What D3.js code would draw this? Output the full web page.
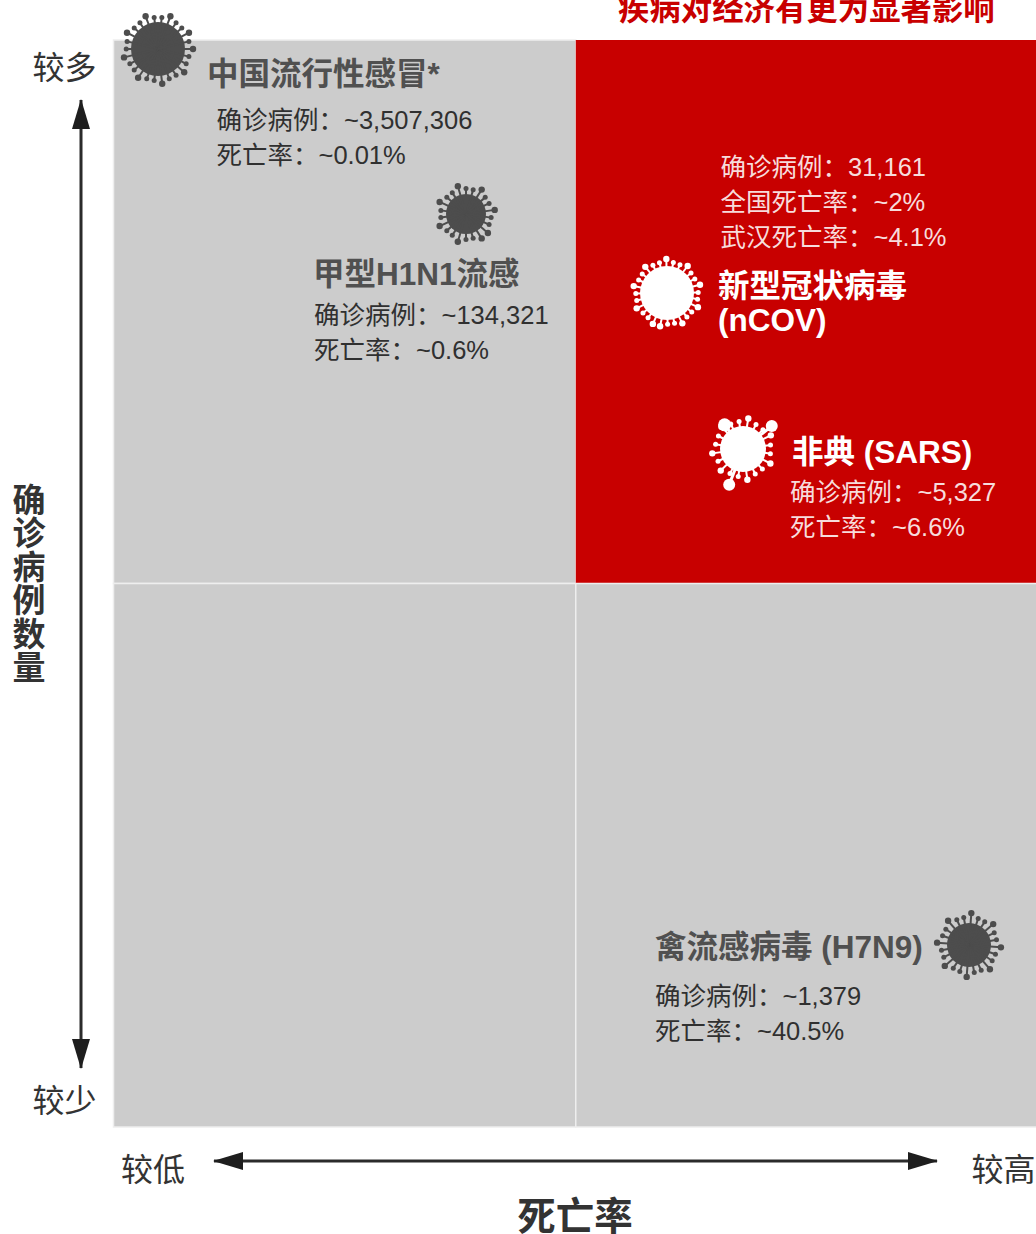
<!DOCTYPE html>
<html>
<head>
<meta charset="utf-8">
<script src="https://cdn.jsdelivr.net/npm/d3@7"></script>
<style>
  html, body { margin: 0; padding: 0; background: #fff; overflow: hidden; }
  text { font-family: "Liberation Sans", "Noto Sans CJK SC", sans-serif; }
</style>
</head>
<body>
<div id="chart"></div>
<script>
// chart content
const rateLevels = ["较低", "较高"];
const caseLevels = ["较多", "较少"];
const highlightCell = "较高|较多";

const diseases = ["中国流行性感冒*", "甲型H1N1流感", "新型冠状病毒", "非典 (SARS)", "禽流感病毒 (H7N9)"];
const caseCounts = ["~3,507,306", "~134,321", "31,161", "~5,327", "~1,379"];
const deathRates = ["~0.01%", "~0.6%", "~2%", "~6.6%", "~40.5%"];

const width = 1036, height = 1234;
const plot = { left: 113.5, right: 1038, top: 40, bottom: 1127 };

// where each block of text and each icon sits
const placement = [
    { x: 207, bodyX: 216.5, title: 85, lines: [129, 164], icon: [158, 49], r: 27, out: 35, spikes: 26, dark: true },
    { x: 313, bodyX: 314, title: 285, lines: [324, 359], icon: [466, 214], r: 20, out: 29, spikes: 22, dark: true },
    { x: 718, bodyX: 720.5, title: 297, lines: [176, 211, 246], icon: [667, 293], r: 27, out: 34, spikes: 28, dark: false },
    { x: 792, bodyX: 790, title: 463, lines: [501, 536], icon: [743, 449], r: 23, out: 31, spikes: 20, dark: false },
    { x: 655, bodyX: 655, title: 958, lines: [1004.5, 1040], icon: [969, 945], r: 22, out: 32, spikes: 24, dark: true }
];

const svg = d3.select("#chart").append("svg")
    .attr("width", width)
    .attr("height", height);

// quadrants
const xScale = d3.scaleBand().domain(rateLevels).range([plot.left, plot.right]).paddingInner(0);
const yScale = d3.scaleBand().domain(caseLevels).range([plot.top, plot.bottom]).paddingInner(0);

const cells = d3.cross(rateLevels, caseLevels);
svg.selectAll(".cell")
    .data(cells)
    .enter().append("rect")
    .attr("class", "cell")
    .attr("x", d => xScale(d[0]))
    .attr("y", d => yScale(d[1]))
    .attr("width", xScale.bandwidth())
    .attr("height", yScale.bandwidth())
    .attr("fill", d => d.join("|") === highlightCell ? "#c80000" : "#cccccc")
    .attr("stroke", "#eeeeee")
    .attr("stroke-width", 1.5);

// the highlight has no pale edge on top or right
svg.selectAll(".cell")
    .filter(d => d.join("|") === highlightCell)
    .attr("stroke", "none");

// axis end labels
const xEnds = d3.scalePoint().domain(rateLevels).range([152.5, 1003]);
const yEnds = d3.scalePoint().domain(caseLevels).range([67, 1100]);

const xAxis = svg.append("g")
    .attr("transform", "translate(0,1169)")
    .call(d3.axisBottom(xEnds).tickSize(0).tickPadding(0));
const yAxis = svg.append("g")
    .attr("transform", "translate(96.5,0)")
    .call(d3.axisLeft(yEnds).tickSize(0).tickPadding(0));
[xAxis, yAxis].forEach(a => {
    a.select(".domain").remove();
    a.selectAll("text")
        .attr("y", null)
        .attr("dy", "0.36em")
        .attr("fill", "#333")
        .style("font-size", "32px");
});

// arrows
const defs = svg.append("defs");
defs.append("marker")
    .attr("id", "head")
    .attr("viewBox", "0 0 30 18")
    .attr("refX", 29)
    .attr("refY", 9)
    .attr("markerUnits", "userSpaceOnUse")
    .attr("markerWidth", 32)
    .attr("markerHeight", 18)
    .attr("orient", "auto-start-reverse")
    .append("path")
    .attr("d", "M0,0 L30,9 L0,18 Z")
    .attr("fill", "#1e1e1e");

svg.append("line")
    .attr("x1", 81).attr("x2", 81)
    .attr("y1", 100).attr("y2", 1068)
    .attr("stroke", "#2b2b2b").attr("stroke-width", 3)
    .attr("marker-start", "url(#head)").attr("marker-end", "url(#head)");

svg.append("line")
    .attr("x1", 214).attr("x2", 937)
    .attr("y1", 1161).attr("y2", 1161)
    .attr("stroke", "#2b2b2b").attr("stroke-width", 3)
    .attr("marker-start", "url(#head)").attr("marker-end", "url(#head)");

// axis titles
svg.append("text")
    .attr("x", 575).attr("y", 1230)
    .attr("text-anchor", "middle")
    .attr("font-size", 38.5).attr("font-weight", 700)
    .attr("fill", "#333")
    .text("死亡率");

svg.selectAll(".ytitle")
    .data("确诊病例数量".split(""))
    .enter().append("text")
    .attr("class", "ytitle")
    .attr("x", 29)
    .attr("y", (d, i) => 512 + i * 33.4)
    .attr("text-anchor", "middle")
    .attr("font-size", 33).attr("font-weight", 700)
    .attr("fill", "#333")
    .text(d => d);

// red heading, cut off by the top of the picture
svg.append("text")
    .attr("x", 618).attr("y", 20)
    .attr("font-size", 31.4).attr("font-weight", 700)
    .attr("fill", "#c80000")
    .text("疾病对经济有更为显著影响");

// virus icon
function drawVirus(p, i) {
    const color = p.dark ? "#4d4d4d" : "#ffffff";
    const g = svg.append("g").attr("transform", `translate(${p.icon[0]},${p.icon[1]})`);
    g.append("circle").attr("r", p.r).attr("fill", color);
    d3.range(p.spikes).forEach(k => {
        const a = (k / p.spikes) * 2 * Math.PI + i;
        // every third spike is a long one
        const len = k % 3 === 0 ? p.out : p.r + (p.out - p.r) * 0.6;
        const tip = k % 3 === 0 ? 3.2 : 2.5;
        g.append("line")
            .attr("x2", Math.cos(a) * len).attr("y2", Math.sin(a) * len)
            .attr("stroke", color).attr("stroke-width", 2);
        g.append("circle")
            .attr("cx", Math.cos(a) * len).attr("cy", Math.sin(a) * len)
            .attr("r", tip).attr("fill", color);
    });
    return g;
}

const icons = placement.map(drawVirus);

// the SARS icon has three large club-shaped spikes
[[-0.8, -1.05, 6.5], [1.25, -1, 6], [-0.6, 1.55, 6]].forEach(s => {
    const len = 23;
    icons[3].append("line")
        .attr("x2", s[0] * len).attr("y2", s[1] * len)
        .attr("stroke", "#fff").attr("stroke-width", 3);
    icons[3].append("circle")
        .attr("cx", s[0] * len).attr("cy", s[1] * len)
        .attr("r", s[2]).attr("fill", "#fff");
});

// text blocks
diseases.forEach((name, i) => {
    const p = placement[i];
    const titleColor = p.dark ? "#505050" : "#ffffff";
    const bodyColor = p.dark ? "#303030" : "#f7dcdc";

    svg.append("text")
        .attr("x", p.x).attr("y", p.title)
        .attr("font-size", 31.5).attr("font-weight", 700)
        .attr("fill", titleColor)
        .text(name);

    const rows = p.lines.length === 3
        ? [`确诊病例：${caseCounts[i]}`, `全国死亡率：${deathRates[i]}`, "武汉死亡率：~4.1%"]
        : [`确诊病例：${caseCounts[i]}`, `死亡率：${deathRates[i]}`];

    rows.forEach((row, j) => {
        svg.append("text")
            .attr("x", p.bodyX).attr("y", p.lines[j])
            .attr("font-size", 25.5)
            .attr("fill", bodyColor)
            .text(row);
    });
});

// second line of the nCOV name
svg.append("text")
    .attr("x", 718).attr("y", 331)
    .attr("font-size", 31.5).attr("font-weight", 700)
    .attr("fill", "#fff")
    .text("(nCOV)");
</script>
</body>
</html>
